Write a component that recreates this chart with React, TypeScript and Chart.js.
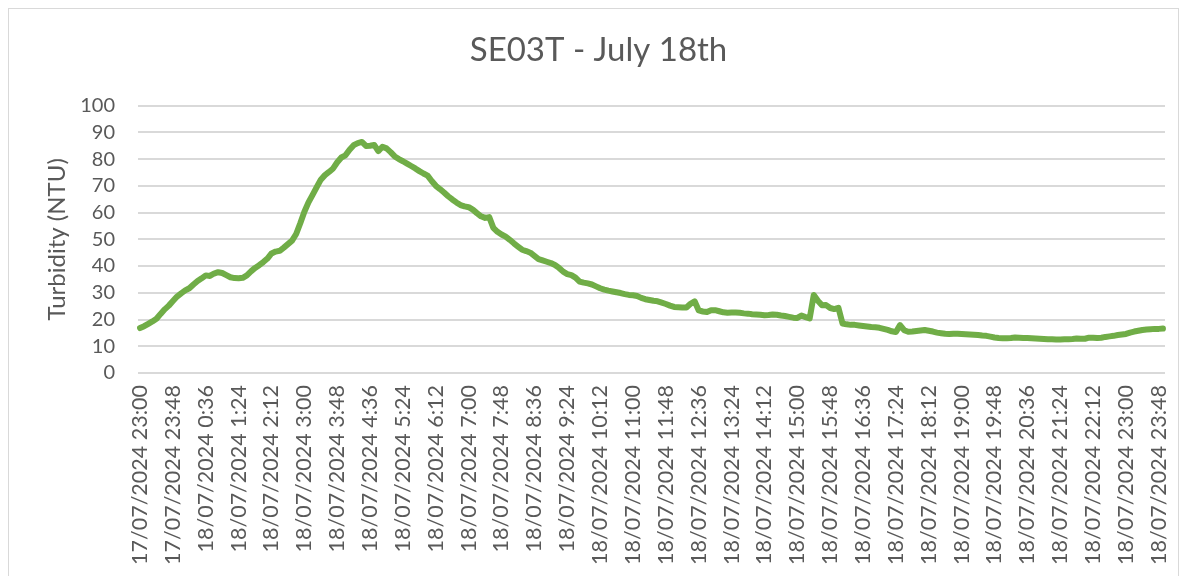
import React, { useEffect, useRef } from "react";
import { Chart, registerables } from "chart.js";

Chart.register(...registerables);

// 6-minute readings from 17/07/2024 23:00 to 18/07/2024 23:54
const turbidity: number[] = [
  16.8, 17.5, 18.4, 19.3, 20.3, 22.1, 23.8, 25.2,
  26.9, 28.6, 29.8, 30.9, 31.7, 33.1, 34.4, 35.4,
  36.5, 36.3, 37.2, 37.7, 37.4, 36.6, 35.8, 35.5,
  35.4, 35.6, 36.5, 38.0, 39.3, 40.3, 41.5, 42.8,
  44.7, 45.4, 45.7, 46.9, 48.2, 49.5, 52.0, 56.0,
  60.3, 63.8, 66.6, 69.5, 72.3, 74.0, 75.2, 76.5,
  78.8, 80.6, 81.4, 83.5, 85.2, 86.0, 86.4, 84.9,
  85.0, 85.3, 83.0, 84.6, 84.0, 82.6, 81.0, 80.0,
  79.2, 78.3, 77.4, 76.5, 75.5, 74.6, 73.8, 71.8,
  70.0, 68.8, 67.5, 66.1, 64.9, 63.8, 62.8, 62.3,
  62.0, 61.1, 59.8, 58.6, 58.0, 58.3, 54.3, 52.8,
  51.8, 51.0, 49.8, 48.5, 47.3, 46.1, 45.6, 45.0,
  43.8, 42.6, 42.1, 41.6, 41.1, 40.4, 39.3, 37.9,
  37.0, 36.6, 35.7, 34.2, 33.8, 33.5, 33.1, 32.4,
  31.7, 31.2, 30.8, 30.5, 30.2, 29.9, 29.5, 29.2,
  29.1, 28.8, 28.1, 27.6, 27.3, 27.0, 26.8, 26.3,
  25.8, 25.2, 24.7, 24.6, 24.5, 24.5, 25.9, 26.8,
  23.4, 23.0, 22.8, 23.5, 23.5, 23.1, 22.7, 22.5,
  22.6, 22.6, 22.5, 22.3, 22.2, 22.0, 21.9, 21.8,
  21.6, 21.7, 21.9, 21.8, 21.5, 21.3, 21.0, 20.7,
  20.6, 21.5, 20.9, 20.4, 29.2, 27.0, 25.3, 25.4,
  24.3, 23.9, 24.4, 18.5, 18.2, 18.0, 18.0, 17.8,
  17.6, 17.4, 17.2, 17.1, 16.9, 16.5, 16.1, 15.6,
  15.3, 17.9, 16.0, 15.4, 15.5, 15.7, 15.9, 16.1,
  15.8, 15.5, 15.1, 14.9, 14.7, 14.6, 14.7, 14.7,
  14.6, 14.5, 14.4, 14.3, 14.2, 14.0, 13.9, 13.6,
  13.3, 13.1, 13.0, 13.0, 13.1, 13.3, 13.2, 13.1,
  13.1, 13.0, 12.9, 12.8, 12.7, 12.6, 12.6, 12.5,
  12.5, 12.6, 12.6, 12.7, 12.9, 12.8, 12.8, 13.2,
  13.2, 13.1, 13.2, 13.5, 13.7, 13.9, 14.2, 14.4,
  14.6, 15.1, 15.5, 15.8, 16.1, 16.3, 16.4, 16.5,
  16.5, 16.6,
];

// Axis labels shown every 8th reading (48 minutes)
const tickLabels: string[] = [
  "17/07/2024 23:00", "17/07/2024 23:48", "18/07/2024 0:36", "18/07/2024 1:24",
  "18/07/2024 2:12", "18/07/2024 3:00", "18/07/2024 3:48", "18/07/2024 4:36",
  "18/07/2024 5:24", "18/07/2024 6:12", "18/07/2024 7:00", "18/07/2024 7:48",
  "18/07/2024 8:36", "18/07/2024 9:24", "18/07/2024 10:12", "18/07/2024 11:00",
  "18/07/2024 11:48", "18/07/2024 12:36", "18/07/2024 13:24", "18/07/2024 14:12",
  "18/07/2024 15:00", "18/07/2024 15:48", "18/07/2024 16:36", "18/07/2024 17:24",
  "18/07/2024 18:12", "18/07/2024 19:00", "18/07/2024 19:48", "18/07/2024 20:36",
  "18/07/2024 21:24", "18/07/2024 22:12", "18/07/2024 23:00", "18/07/2024 23:48",
];

const LABEL_EVERY = 8;
const STEP_MIN = 6;

// category timestamps (one per reading)
const categories: string[] = turbidity.map((_, i) => {
  const m = 23 * 60 + i * STEP_MIN;
  const day = m >= 1440 ? 18 : 17;
  const mm = m % 1440;
  const h = Math.floor(mm / 60);
  const mi = mm % 60;
  return `${day}/07/2024 ${h}:${String(mi).padStart(2, "0")}`;
});

const TITLE = "SE03T - July 18th";
const Y_TITLE = "Turbidity (NTU)";
const FONT = "Lato, 'Open Sans', sans-serif";
const TEXT = "#595959";
const GRID = "#d9d9d9";
const LINE = "#70AD47";

export default function App() {
  const ref = useRef<HTMLCanvasElement | null>(null);

  useEffect(() => {
    document.body.style.overflow = "hidden";
    const canvas = ref.current;
    if (!canvas) return;
    const chart = new Chart(canvas, {
      type: "line",
      data: {
        labels: categories,
        datasets: [
          {
            label: Y_TITLE,
            data: turbidity,
            borderColor: LINE,
            backgroundColor: LINE,
            borderWidth: 6,
            pointRadius: 0,
            tension: 0,
            borderJoinStyle: "round",
            borderCapStyle: "round",
          },
        ],
      },
      options: {
        animation: false,
        responsive: false,
        layout: { padding: { left: 23, right: 13, top: 0, bottom: 0 } },
        plugins: {
          legend: { display: false },
          tooltip: { enabled: false },
          title: {
            display: true,
            text: TITLE,
            color: TEXT,
            font: { family: FONT, size: 33, weight: "normal" },
            padding: { top: 22, bottom: 35 },
          },
        },
        scales: {
          x: {
            type: "category",
            offset: true,
            grid: { display: false, drawTicks: false },
            border: { display: false },
            ticks: {
              autoSkip: false,
              maxRotation: 90,
              minRotation: 90,
              padding: 12,
              color: TEXT,
              font: { family: FONT, size: 21.5 },
              callback: (_v: any, index: number) =>
                index % LABEL_EVERY === 0 ? tickLabels[index / LABEL_EVERY] : null,
            },
            afterFit: (scale: any) => {
              scale.height = 214;
              scale.paddingLeft = 0;
              scale.paddingRight = 0;
            },
          },
          y: {
            min: 0,
            max: 100,
            grid: { color: GRID, lineWidth: 2, drawTicks: false },
            border: { display: false },
            ticks: {
              stepSize: 10,
              autoSkip: false,
              padding: 23,
              color: TEXT,
              font: { family: FONT, size: 20 },
            },
            title: {
              display: true,
              text: Y_TITLE,
              color: TEXT,
              font: { family: FONT, size: 24, weight: "normal" },
              padding: { top: 11, bottom: 0 },
            },
            afterFit: (scale: any) => {
              scale.width = 106;
              scale.paddingTop = 0;
              scale.paddingBottom = 0;
            },
          },
        },
      },
    });
    return () => chart.destroy();
  }, []);

  return (
    <div
      style={{
        width: 1171,
        height: 580,
        border: "1px solid #d9d9d9",
        boxSizing: "border-box",
        background: "#fff",
      }}
    >
      <canvas ref={ref} width={1169} height={578} style={{ display: "block" }} />
    </div>
  );
}
